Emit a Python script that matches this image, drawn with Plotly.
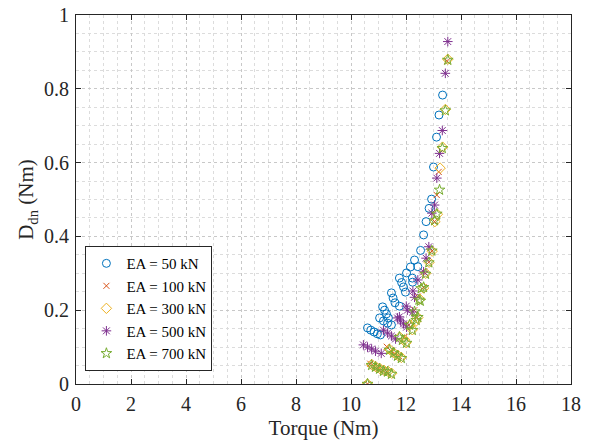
import plotly.graph_objects as go

# EA = 50 kN
t50 = [13.33, 13.2, 13.11, 13.0, 12.93, 12.84, 12.73, 12.64, 12.53, 12.43,
       12.31, 12.16, 12.02, 12.23, 12.24,
       11.76, 11.84, 11.91, 11.98,
       11.47, 11.53, 11.6, 11.76,
       11.15, 11.22, 11.29, 11.36,
       11.04, 11.18, 11.33, 11.47,
       10.6, 10.72, 10.84, 10.96, 11.07]
d50 = [0.783, 0.729, 0.669, 0.588, 0.501, 0.476, 0.44, 0.404, 0.362, 0.318,
       0.336, 0.317, 0.301, 0.287, 0.276,
       0.287, 0.275, 0.263, 0.249,
       0.247, 0.233, 0.22, 0.211,
       0.209, 0.2, 0.19, 0.179,
       0.179, 0.171, 0.165, 0.16,
       0.152, 0.146, 0.141, 0.136, 0.133]

# EA = 100 kN
t100 = [13.5, 13.19, 13.12, 13.04, 12.94, 12.83, 12.7, 12.64, 12.43, 12.3, 12.4, 12.1,
        11.95, 11.3, 11.45, 11.6, 11.75, 10.7, 10.85, 11.0, 11.15, 11.3, 10.6]
d100 = [0.875, 0.575, 0.512, 0.44, 0.36, 0.33, 0.3, 0.262, 0.237, 0.2, 0.18, 0.16,
        0.128, 0.101, 0.09, 0.082, 0.075, 0.055, 0.048, 0.043, 0.037, 0.033, 0.0]

# EA = 300 kN
t300 = [13.52, 13.43, 13.33, 13.24, 13.14, 13.05, 12.95, 12.84, 12.72, 12.64, 12.5,
        12.43, 12.36, 12.15, 12.23, 11.95, 12.0, 11.77, 11.4, 11.55, 11.7, 11.83,
        10.75, 10.9, 11.05, 11.2, 11.35, 11.48, 10.6]
d300 = [0.88, 0.744, 0.642, 0.585, 0.46, 0.44, 0.36, 0.33, 0.3, 0.26, 0.23,
        0.18, 0.17, 0.16, 0.147, 0.12, 0.112, 0.127, 0.094, 0.085, 0.078, 0.072,
        0.053, 0.047, 0.042, 0.037, 0.034, 0.029, 0.0]

# EA = 500 kN
t500 = [13.52, 13.43, 13.32, 13.22, 13.12, 13.04, 12.94, 12.83, 12.73, 12.64, 12.43,
        12.25, 12.31, 12.01, 12.05, 12.24, 11.76,
        11.69, 11.8, 11.91, 12.02,
        11.18, 11.33, 11.47, 11.62,
        10.45, 10.6, 10.75, 10.89, 11.1]
d500 = [0.928, 0.842, 0.687, 0.625, 0.558, 0.485, 0.463, 0.372, 0.341, 0.304, 0.282,
        0.252, 0.235, 0.211, 0.2, 0.195, 0.182,
        0.179, 0.171, 0.163, 0.154,
        0.146, 0.138, 0.13, 0.122,
        0.106, 0.1, 0.095, 0.089, 0.083]

# EA = 700 kN
t700 = [13.52, 13.43, 13.32, 13.22, 13.12, 13.04, 12.94, 12.83, 12.71, 12.64, 12.55,
        12.52, 12.47, 12.31, 12.43, 12.37, 12.13, 12.23,
        11.76, 11.87, 12.02,
        11.4, 11.55, 11.69, 11.83,
        10.75, 10.89, 11.04, 11.18, 11.33, 11.47, 10.6]
d700 = [0.878, 0.741, 0.639, 0.526, 0.461, 0.443, 0.361, 0.329, 0.298, 0.262, 0.259,
        0.225, 0.228, 0.196, 0.181, 0.173, 0.16, 0.146,
        0.127, 0.119, 0.111,
        0.092, 0.084, 0.076, 0.07,
        0.051, 0.046, 0.041, 0.035, 0.033, 0.027, 0.0]

labels = ["EA = 50 kN", "EA = 100 kN", "EA = 300 kN", "EA = 500 kN", "EA = 700 kN"]
colors = ["#0072BD", "#D95319", "#EDB120", "#7E2F8E", "#77AC30"]
symbols = ["circle-open", "x-thin-open", "diamond-open", "asterisk-open", "star-open"]
sizes = [8, 6, 8, 8, 8]

xticks = [0, 2, 4, 6, 8, 10, 12, 14, 16, 18]
yticks = [0, 0.2, 0.4, 0.6, 0.8, 1]

SERIF = "Liberation Serif, DejaVu Serif, serif"

fig = go.Figure()
for xs, ys, lab, col, sym, sz in zip([t50, t100, t300, t500, t700],
                                     [d50, d100, d300, d500, d700],
                                     labels, colors, symbols, sizes):
    fig.add_trace(go.Scatter(
        x=xs, y=ys, mode="markers", name=lab,
        marker=dict(symbol=sym, size=sz, color=col, line=dict(color=col, width=1)),
    ))

axis_common = dict(
    showline=True, linecolor="#262626", linewidth=1, mirror="ticks",
    ticks="inside", ticklen=5, tickcolor="#262626",
    showgrid=True, gridcolor="#c8c8c8", griddash="dot", gridwidth=1,
    zeroline=False, automargin=False,
    tickfont=dict(family=SERIF, size=20, color="#262626"),
)

fig.update_xaxes(
    range=[0, 18], tickvals=xticks, ticktext=[str(v) for v in xticks],
    ticklabelstandoff=2,
    minor=dict(dtick=0.5, showgrid=True, gridcolor="#dcdcdc", griddash="dot", ticks=""),
    title=dict(text="Torque (Nm)", font=dict(family=SERIF, size=21, color="#262626"), standoff=6),
    **axis_common,
)
fig.update_yaxes(
    range=[0, 1], tickvals=yticks, ticktext=["0", "0.2", "0.4", "0.6", "0.8", "1"],
    ticklabelstandoff=2,
    minor=dict(dtick=0.05, showgrid=True, gridcolor="#dcdcdc", griddash="dot", ticks=""),
    title=dict(text="D<sub>dn</sub> (Nm)", font=dict(family=SERIF, size=21, color="#262626"), standoff=4),
    **axis_common,
)

fig.update_layout(
    width=592, height=443,
    margin=dict(l=76, r=21, t=15, b=59),
    paper_bgcolor="white", plot_bgcolor="white",
    font=dict(family=SERIF),
    showlegend=True,
    legend=dict(
        x=0.019, y=0.035, xanchor="left", yanchor="bottom",
        bgcolor="white", bordercolor="#262626", borderwidth=1,
        font=dict(family=SERIF, size=15, color="#000000"),
        tracegroupgap=0, itemwidth=30,
    ),
)

fig.write_html("out.html")
